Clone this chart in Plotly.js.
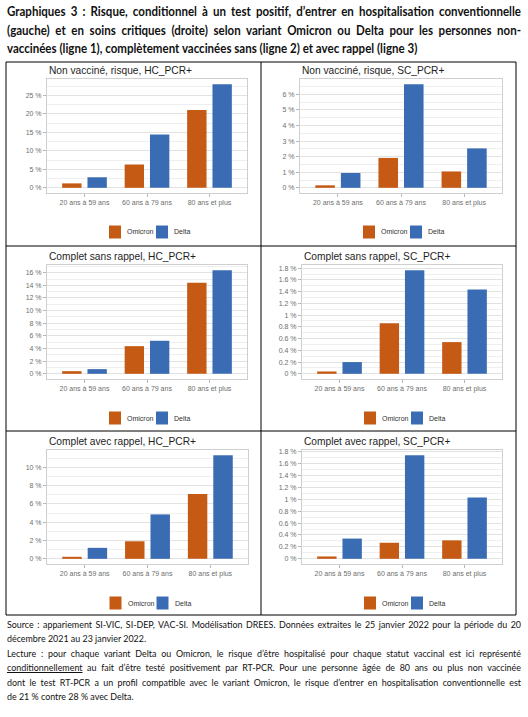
<!DOCTYPE html>
<html>
<head>
<meta charset="utf-8">
<script src="https://cdn.plot.ly/plotly-3.0.1.min.js"></script>
<style>
  html, body { margin: 0; padding: 0; background: #fff; }
  #page { position: relative; width: 528px; height: 717px; overflow: hidden; background: #fff; }
  #chart { position: absolute; left: 0; top: 0; width: 528px; height: 717px; }
  .block { position: absolute; left: 7px; color: #111; transform-origin: 0 0; z-index: 5; }
  .head { top: 3px; font-family: Lato, "Noto Sans", sans-serif; font-weight: 700; font-size: 12.4px; line-height: 18.5px; }
  .foot { top: 617px; font-family: Lato, "Noto Sans", sans-serif; font-weight: 400; font-size: 10px; line-height: 14.4px; }
  .j { text-align: justify; text-align-last: justify; }
  .l { text-align: left; }
  u { text-underline-offset: 1px; }
</style>
</head>
<body>
<div id="page">
  <div id="chart"></div>
  <div class="block head" id="head">
    <div class="j">Graphiques 3 : Risque, conditionnel à un test positif, d’entrer en hospitalisation conventionnelle</div>
    <div class="j">(gauche) et en soins critiques (droite) selon variant Omicron ou Delta pour les personnes non-</div>
    <div class="l">vaccinées (ligne 1), complètement vaccinées sans (ligne 2) et avec rappel (ligne 3)</div>
  </div>
  <div class="block foot" id="foot">
    <div class="j">Source : appariement SI-VIC, SI-DEP, VAC-SI. Modélisation DREES. Données extraites le 25 janvier 2022 pour la période du 20</div>
    <div class="l">décembre 2021 au 23 janvier 2022.</div>
    <div class="j">Lecture : pour chaque variant Delta ou Omicron, le risque d’être hospitalisé pour chaque statut vaccinal est ici représenté</div>
    <div class="j"><u>conditionnellement</u> au fait d’être testé positivement par RT-PCR. Pour une personne âgée de 80 ans ou plus non vaccinée</div>
    <div class="j">dont le test RT-PCR a un profil compatible avec le variant Omicron, le risque d’entrer en hospitalisation conventionnelle est</div>
    <div class="l">de 21 % contre 28 % avec Delta.</div>
  </div>
</div>
<script>
// Age groups on the x axis and the two variants compared in each panel
const ageGroups = ['20 ans à 59 ans', '60 ans à 79 ans', '80 ans et plus'];
const variantNames = ['Omicron', 'Delta'];

const panelTitles = [
  'Non vacciné, risque, HC_PCR+',
  'Non vacciné, risque, SC_PCR+',
  'Complet sans rappel, HC_PCR+',
  'Complet sans rappel, SC_PCR+',
  'Complet avec rappel, HC_PCR+',
  'Complet avec rappel, SC_PCR+'
];

// Risk (%) conditional on a positive RT-PCR test, by age group
const nonVaccineHcOmicron = [1.2, 6.3, 21];
const nonVaccineHcDelta = [2.85, 14.4, 28];
const nonVaccineScOmicron = [0.16, 1.92, 1.05];
const nonVaccineScDelta = [0.95, 6.65, 2.53];
const sansRappelHcOmicron = [0.42, 4.38, 14.4];
const sansRappelHcDelta = [0.74, 5.23, 16.4];
const sansRappelScOmicron = [0.04, 0.86, 0.54];
const sansRappelScDelta = [0.2, 1.765, 1.435];
const avecRappelHcOmicron = [0.22, 1.92, 7.1];
const avecRappelHcDelta = [1.2, 4.86, 11.34];
const avecRappelScOmicron = [0.04, 0.27, 0.31];
const avecRappelScDelta = [0.34, 1.74, 1.03];

const panelSeries = [
  [nonVaccineHcOmicron, nonVaccineHcDelta],
  [nonVaccineScOmicron, nonVaccineScDelta],
  [sansRappelHcOmicron, sansRappelHcDelta],
  [sansRappelScOmicron, sansRappelScDelta],
  [avecRappelHcOmicron, avecRappelHcDelta],
  [avecRappelScOmicron, avecRappelScDelta]
];

// ---- page geometry (pixels) ----
const W = 528, H = 717;
const px = x => x / W;
const py = y => 1 - y / H;

const variantColors = ['#C55A14', '#3A6CB4'];
const boxes = [
  { l: 47, r: 247, t: 79, b: 193 },
  { l: 300, r: 502, t: 79, b: 193 },
  { l: 47, r: 247, t: 265, b: 379 },
  { l: 302, r: 502, t: 265, b: 379 },
  { l: 47, r: 248, t: 450, b: 564 },
  { l: 302, r: 502, t: 450, b: 564 }
];
const majorStep = [5, 1, 2, 0.2, 2, 0.2];
const titleY = [71, 71, 256, 256, 441, 441];
const legendY = [232, 232, 418, 418, 603, 603];

const tickFont = { family: 'Liberation Sans, Arial, sans-serif', size: 7, color: '#6e6e6e' };

const traces = [];
const layout = {
  width: W, height: H, autosize: false,
  margin: { l: 0, r: 0, t: 0, b: 0, pad: 0 },
  paper_bgcolor: '#ffffff', plot_bgcolor: '#ffffff',
  barmode: 'group', bargap: 0.19, bargroupgap: 0.235,
  showlegend: false,
  font: { family: 'Liberation Sans, Arial, sans-serif', color: '#222' },
  shapes: [], annotations: []
};

panelSeries.forEach((series, i) => {
  const k = i === 0 ? '' : String(i + 1);
  const box = boxes[i];
  const maxVal = Math.max(...series[0], ...series[1]);

  series.forEach((vals, v) => {
    traces.push({
      type: 'bar', x: ageGroups, y: vals, name: variantNames[v],
      xaxis: 'x' + k, yaxis: 'y' + k,
      marker: { color: variantColors[v], line: { width: 0 } },
      hovertemplate: '%{x}<br>' + variantNames[v] + ' : %{y} %<extra></extra>'
    });
  });

  layout['xaxis' + k] = {
    domain: [px(box.l), px(box.r)], anchor: 'y' + k,
    type: 'category', range: [-0.6, 2.6],
    showgrid: false, zeroline: false,
    showline: true, mirror: true, linecolor: '#cfcfcf', linewidth: 1,
    ticks: 'outside', ticklen: 3, tickcolor: '#b8b8b8', tickwidth: 1,
    tickfont: tickFont, fixedrange: true
  };
  layout['yaxis' + k] = {
    domain: [py(box.b), py(box.t)], anchor: 'x' + k,
    range: [-0.05 * maxVal, 1.05 * maxVal],
    tick0: 0, dtick: majorStep[i], ticksuffix: ' %',
    showgrid: true, gridcolor: '#e2e2e2', gridwidth: 1,
    minor: { dtick: majorStep[i] / 2, showgrid: true, gridcolor: '#efefef', gridwidth: 1 },
    zeroline: false,
    showline: true, mirror: true, linecolor: '#cfcfcf', linewidth: 1,
    ticks: 'outside', ticklen: 3, tickcolor: '#b8b8b8', tickwidth: 1,
    tickfont: tickFont, fixedrange: true
  };

  // panel title
  layout.annotations.push({
    xref: 'paper', yref: 'paper', x: px(box.l), y: py(titleY[i]),
    xanchor: 'left', yanchor: 'middle', showarrow: false,
    text: panelTitles[i],
    font: { family: 'Liberation Sans, Arial, sans-serif', size: 10.2, color: '#1e1e1e' }
  });

  // legend: swatch + label per variant, centred under the panel
  const cx = (box.l + box.r) / 2, cy = legendY[i];
  const swatchOffsets = [[-38, -26], [9, 21]];
  const labelOffsets = [-22, 25];
  variantNames.forEach((name, v) => {
    layout.shapes.push({
      type: 'rect', xref: 'paper', yref: 'paper',
      x0: px(cx + swatchOffsets[v][0]), x1: px(cx + swatchOffsets[v][1]),
      y0: py(cy + 6.5), y1: py(cy - 6.5),
      fillcolor: variantColors[v], line: { width: 0 }
    });
    layout.annotations.push({
      xref: 'paper', yref: 'paper', x: px(cx + labelOffsets[v]), y: py(cy),
      xanchor: 'left', yanchor: 'middle', showarrow: false,
      text: name, font: { family: 'Liberation Sans, Arial, sans-serif', size: 7, color: '#333' }
    });
  });
});

// table frame around the six panels
const frame = { l: 6, r: 516, t: 62, b: 615, mid: 261, rows: [246, 431] };
const frameLine = { color: '#000', width: 1 };
layout.shapes.push({ type: 'rect', xref: 'paper', yref: 'paper', x0: px(frame.l), x1: px(frame.r), y0: py(frame.b), y1: py(frame.t), line: frameLine });
layout.shapes.push({ type: 'line', xref: 'paper', yref: 'paper', x0: px(frame.mid), x1: px(frame.mid), y0: py(frame.b), y1: py(frame.t), line: frameLine });
frame.rows.forEach(y => layout.shapes.push({ type: 'line', xref: 'paper', yref: 'paper', x0: px(frame.l), x1: px(frame.r), y0: py(y), y1: py(y), line: frameLine }));

Plotly.newPlot('chart', traces, layout, { staticPlot: true, displayModeBar: false });

// narrow the humanist sans text blocks to the column width
const squeeze = { head: 0.93, foot: 0.89 };
Object.keys(squeeze).forEach(id => {
  const el = document.getElementById(id);
  el.style.width = (514 / squeeze[id]) + 'px';
  el.style.transform = 'scaleX(' + squeeze[id] + ')';
});
</script>
</body>
</html>
